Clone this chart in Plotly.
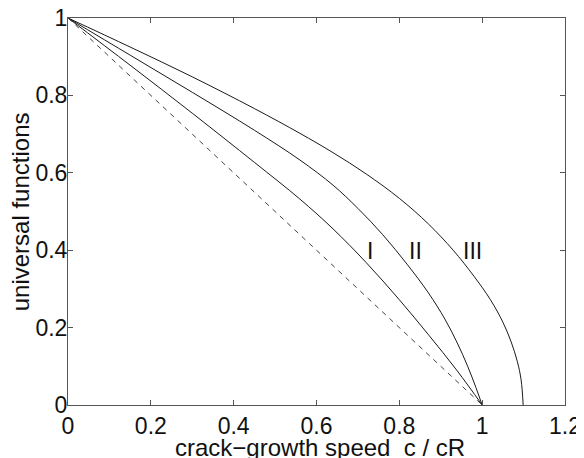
import plotly.graph_objects as go

# Data
x_I = [0.0, 0.15, 0.30, 0.45, 0.56, 0.64, 0.72, 0.80, 0.87, 0.94, 1.0]
y_I = [1.0, 0.878, 0.754, 0.627, 0.532, 0.455, 0.368, 0.272, 0.182, 0.088, 0.0]

x_II = [0.0, 0.15, 0.30, 0.45, 0.56, 0.64, 0.70, 0.76, 0.82, 0.87, 0.91, 0.94, 0.965, 0.985, 1.0]
y_II = [1.0, 0.904, 0.808, 0.71, 0.633, 0.568, 0.508, 0.44, 0.362, 0.29, 0.222, 0.16, 0.10, 0.045, 0.0]

x_III = [0.0, 0.15, 0.30, 0.45, 0.56, 0.64, 0.72, 0.80, 0.87, 0.93, 0.98, 1.02, 1.05,
         1.07, 1.085, 1.094, 1.099]
y_III = [1.0, 0.925, 0.848, 0.766, 0.702, 0.652, 0.597, 0.534, 0.468, 0.400, 0.333, 0.272,
         0.214, 0.163, 0.112, 0.065, 0.0]

x_ref = [0.0, 1.0]
y_ref = [1.0, 0.0]

labels = ["I", "II", "III"]
label_x = [0.729, 0.838, 0.976]
label_y = [0.398, 0.398, 0.398]

xticks = [0, 0.2, 0.4, 0.6, 0.8, 1, 1.2]
yticks = [0, 0.2, 0.4, 0.6, 0.8, 1]

FONT = "Liberation Sans, Arial, Helvetica, sans-serif"
TXT = "#111111"
LC = "#1a1a1a"

fig = go.Figure()
for xs, ys in [(x_I, y_I), (x_II, y_II), (x_III, y_III)]:
    fig.add_trace(go.Scatter(x=xs, y=ys, mode="lines",
                             line=dict(color=LC, width=1, shape="spline", smoothing=1.0),
                             showlegend=False, hoverinfo="skip"))
fig.add_trace(go.Scatter(x=x_ref, y=y_ref, mode="lines",
                         line=dict(color="#444444", width=1, dash="5px,5px"),
                         showlegend=False, hoverinfo="skip"))

for t, lx, ly in zip(labels, label_x, label_y):
    fig.add_annotation(x=lx, y=ly, text=t, showarrow=False,
                       font=dict(family=FONT, size=23, color=TXT))

# axis titles
fig.add_annotation(xref="paper", yref="paper", x=0.507, y=-0.07, xanchor="center",
                   yanchor="top", text="crack\u2212growth speed  c / cR", showarrow=False,
                   font=dict(family=FONT, size=24, color=TXT))
fig.add_annotation(xref="paper", yref="paper", x=-0.095, y=0.5, xanchor="center",
                   yanchor="middle", text="universal functions", textangle=-90,
                   showarrow=False, font=dict(family=FONT, size=24, color=TXT))

axis_common = dict(showgrid=False, zeroline=False, showline=True, mirror="ticks",
                   linecolor="#555555", linewidth=1, ticks="inside", ticklen=5,
                   tickcolor="#555555", automargin=False, ticklabeloverflow="allow",
                   tickfont=dict(family=FONT, size=23, color=TXT))

fig.update_xaxes(range=[0, 1.2], tickvals=xticks, ticktext=[f"{v:g}" for v in xticks],
                 **axis_common)
fig.update_yaxes(range=[0, 1], tickvals=yticks, ticktext=[f"{v:g}" for v in yticks],
                 ticklabelstandoff=-5, **axis_common)

# the page body adds an 8px margin, so the figure is 8px smaller on each side
fig.update_layout(width=576, height=450, margin=dict(l=60, r=19, t=10, b=53),
                  paper_bgcolor="white", plot_bgcolor="white")

fig.write_html("out.html")
